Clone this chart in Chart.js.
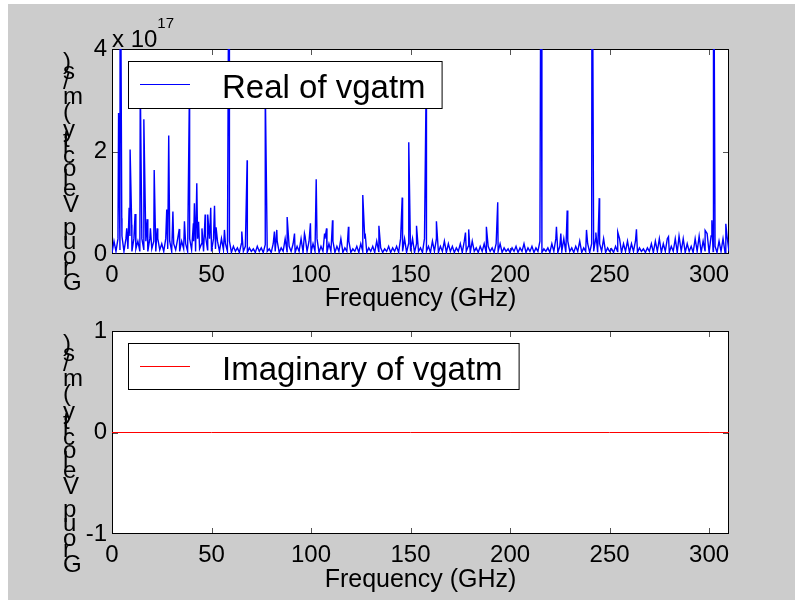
<!DOCTYPE html>
<html>
<head>
<meta charset="utf-8">
<script src="https://cdn.jsdelivr.net/npm/chart.js@4.4.0/dist/chart.umd.min.js"></script>
<style>
  body { margin: 0; background: #fff; }
  #fig { position: absolute; left: 8px; top: 4px; width: 787px; height: 596px; background: #cccccc; }
  canvas { position: absolute; left: 0; }
  #realChart { top: 0; }
  #imagChart { top: 300px; }
</style>
</head>
<body>
<div id="fig"></div>
<canvas id="realChart" width="795" height="320"></canvas>
<canvas id="imagChart" width="795" height="300"></canvas>
<script>
// values of the real part are in units of 1e17 (axis shows "x 10^17")
// tall spikes: frequency (GHz) and height
const realSpikeFreq = [3.3, 4.1, 4.9, 7.4, 8.6, 9.1, 9.9, 11.6, 14.2, 16.0, 17.7, 19.3, 21.2, 22.7, 27.5, 28.5,
  30.6, 33.8, 36.4, 38.9, 40.9, 41.4, 42.6, 43.5, 45.2, 46.8, 48.1, 49.6, 51.5, 52.3, 56.5, 58.9,
  65.2, 67.9, 77.0, 81.6, 82.8, 88.0, 91.7, 96.7, 99.7, 102.6, 106.8, 107.8, 110.8, 118.8,
  126.0, 127.2, 134.1, 145.8, 149.1, 153.0, 157.8, 163.0, 177.6, 179.2, 188.1, 193.8,
  215.6, 223.3, 225.5, 228.7, 238.4, 241.2, 243.1, 244.8, 254.1, 263.5, 279.6, 284.9,
  298.0, 301.4, 302.2, 308.4];
const realSpikeVal = [2.75, 8, 0.70, 0.5, 0.9, 2.04, 0.57, 0.78, 3.4, 2.63, 0.68, 0.5, 1.64, 0.5, 0.87, 2.31,
  0.83, 0.49, 0.64, 3.2, 0.6, 0.99, 1.38, 0.63, 0.5, 0.77, 0.77, 0.9, 0.94, 0.52, 0.47, 8,
  0.44, 1.83, 3.3, 0.44, 0.47, 0.72, 0.4, 0.4, 0.6, 1.46, 0.4, 0.5, 0.66, 0.53,
  1.15, 0.4, 0.55, 1.1, 2.18, 0.55, 3.2, 0.64, 0.42, 0.48, 0.53, 1.01,
  8, 0.53, 0.4, 0.85, 0.47, 8, 0.42, 1.09, 0.43, 0.48, 0.34, 0.35,
  0.46, 0.66, 8, 0.59];

// noise floor, one value per GHz from 0 to 310
const realFloorStart = 0;
const realFloorStep = 1;
const realFloorVal = [
  0.02,0.25,0.05,0.3,0.08,0.35,0.05,0.3,0.1,0.35,
  0.05,0.3,0.1,0.25,0.05,0.3,0.08,0.25,0.05,0.3,
  0.1,0.25,0.05,0.3,0.08,0.2,0.05,0.3,0.1,0.25,
  0.05,0.2,0.08,0.3,0.05,0.25,0.1,0.2,0.05,0.3,
  0.08,0.25,0.05,0.3,0.1,0.2,0.05,0.35,0.08,0.3,
  0.05,0.3,0.1,0.25,0.05,0.3,0.08,0.2,0.05,0.25,
  0.03,0.15,0.05,0.12,0.03,0.2,0.05,0.15,0.03,0.12,
  0.05,0.1,0.03,0.15,0.05,0.12,0.03,0.18,0.05,0.1,
  0.03,0.2,0.05,0.25,0.03,0.12,0.05,0.3,0.03,0.15,
  0.05,0.2,0.03,0.15,0.05,0.3,0.03,0.35,0.05,0.25,
  0.03,0.2,0.05,0.3,0.03,0.15,0.05,0.3,0.03,0.2,
  0.05,0.25,0.03,0.15,0.05,0.3,0.03,0.12,0.05,0.25,
  0.03,0.1,0.05,0.15,0.03,0.2,0.05,0.3,0.03,0.12,
  0.05,0.15,0.03,0.25,0.05,0.12,0.03,0.1,0.05,0.15,
  0.03,0.12,0.05,0.15,0.03,0.3,0.05,0.3,0.03,0.2,
  0.05,0.3,0.03,0.2,0.05,0.12,0.03,0.3,0.05,0.15,
  0.03,0.25,0.05,0.3,0.03,0.15,0.05,0.25,0.03,0.2,
  0.05,0.15,0.03,0.12,0.05,0.2,0.03,0.25,0.05,0.15,
  0.03,0.25,0.05,0.12,0.03,0.15,0.05,0.2,0.03,0.15,
  0.05,0.12,0.03,0.2,0.05,0.2,0.03,0.12,0.05,0.1,
  0.03,0.12,0.05,0.15,0.03,0.12,0.05,0.2,0.03,0.12,
  0.05,0.15,0.03,0.12,0.05,0.25,0.03,0.1,0.05,0.12,
  0.03,0.2,0.05,0.3,0.03,0.15,0.05,0.3,0.03,0.25,
  0.05,0.12,0.03,0.15,0.05,0.25,0.03,0.12,0.05,0.2,
  0.03,0.2,0.05,0.3,0.03,0.2,0.05,0.3,0.03,0.12,
  0.05,0.1,0.03,0.15,0.05,0.3,0.03,0.2,0.05,0.25,
  0.03,0.2,0.05,0.25,0.03,0.12,0.05,0.1,0.03,0.12,
  0.05,0.2,0.03,0.25,0.05,0.3,0.03,0.2,0.05,0.3,
  0.03,0.15,0.05,0.3,0.03,0.35,0.05,0.3,0.03,0.2,
  0.05,0.15,0.03,0.3,0.05,0.35,0.03,0.25,0.05,0.4,
  0.03,0.35,0.05,0.15,0.03,0.25,0.05,0.3,0.03,0.35,
  0.05
];

const imagFreq = [0, 50, 100, 150, 200, 250, 300, 310];
const imagVal = [0, 0, 0, 0, 0, 0, 0, 0];

const xTicks = [0, 50, 100, 150, 200, 250, 300];
const realTicks = [0, 2, 4];
const imagTicks = [-1, 0, 1];

const FONT = '"Liberation Sans", Arial, Helvetica, sans-serif';
Chart.defaults.font.family = FONT;
Chart.defaults.color = '#000';

const realPoints = realFloorVal.map((v, i) => ({ x: realFloorStart + i * realFloorStep, y: v }))
  .concat(realSpikeFreq.map((f, i) => ({ x: f, y: realSpikeVal[i] })))
  .sort((a, b) => a.x - b.x);
const imagPoints = imagFreq.map((f, i) => ({ x: f, y: imagVal[i] }));

// matlab-ish axes: white box, inward ticks, boxed legend, odd stacked ylabel
const matlabAxes = {
  id: 'matlabAxes',
  beforeDraw(chart) {
    const { ctx, chartArea: ca } = chart;
    ctx.save();
    ctx.fillStyle = '#fff';
    ctx.fillRect(ca.left, ca.top, ca.right - ca.left, ca.bottom - ca.top);
    ctx.restore();
  },
  beforeDatasetsDraw(chart) {
    const { ctx, chartArea: ca, scales } = chart;
    ctx.save();
    ctx.strokeStyle = '#555';
    ctx.lineWidth = 1;
    ctx.beginPath();
    scales.x.ticks.forEach(t => {
      const px = Math.round(scales.x.getPixelForValue(t.value)) + 0.5;
      if (px - ca.left < 3) return;
      ctx.moveTo(px, ca.top); ctx.lineTo(px, ca.top + 6);
      ctx.moveTo(px, ca.bottom); ctx.lineTo(px, ca.bottom - 6);
    });
    scales.y.ticks.forEach(t => {
      const py = Math.round(scales.y.getPixelForValue(t.value)) + 0.5;
      if (py - ca.top < 3 || ca.bottom - py < 3) return;
      ctx.moveTo(ca.left, py); ctx.lineTo(ca.left + 6, py);
      ctx.moveTo(ca.right, py); ctx.lineTo(ca.right - 6, py);
    });
    ctx.stroke();
    ctx.strokeStyle = '#000';
    ctx.strokeRect(ca.left + 0.5, ca.top + 0.5, ca.right - ca.left - 1, ca.bottom - ca.top - 1);
    ctx.restore();
  },
  afterDraw(chart, args, opts) {
    const { ctx, chartArea: ca } = chart;
    const ds = chart.data.datasets[0];
    ctx.save();

    // legend
    ctx.font = '33px ' + FONT;
    const tw = ctx.measureText(ds.label).width;
    const bx = ca.left + 16, by = ca.top + 12;
    const bw = 94 + tw + 16, bh = opts.legendHeight;
    ctx.fillStyle = '#fff';
    ctx.fillRect(bx, by, bw, bh);
    ctx.strokeStyle = '#000';
    ctx.lineWidth = 1;
    ctx.strokeRect(bx + 0.5, by + 0.5, bw, bh);
    ctx.strokeStyle = ds.borderColor;
    ctx.beginPath();
    ctx.moveTo(ca.left + 28, ca.top + 35.5);
    ctx.lineTo(ca.left + 78, ca.top + 35.5);
    ctx.stroke();
    ctx.fillStyle = '#000';
    ctx.textBaseline = 'alphabetic';
    ctx.textAlign = 'left';
    ctx.fillText(ds.label, ca.left + 110, ca.top + 49);

    // y label, glyphs upright and stacked along the rotated baseline
    ctx.font = '24px ' + FONT;
    const chars = [...opts.ylabel];
    const w = chars.map(c => ctx.measureText(c).width);
    const centers = [];
    let cum = 0;
    chars.forEach((c, i) => { centers.push(cum + w[i] / 2 - w[0] / 2); cum += w[i]; });
    const k = 221 / centers[centers.length - 1];
    ctx.textBaseline = 'middle';
    chars.forEach((c, i) => {
      if (c !== ' ') ctx.fillText(c, 63, ca.top + 234 - centers[i] * k);
    });

    // exponent
    if (opts.exponent) {
      ctx.textBaseline = 'alphabetic';
      ctx.font = '24px ' + FONT;
      ctx.fillText('x 10', ca.left, ca.top - 2);
      const ew = ctx.measureText('x 10').width;
      ctx.font = '15px ' + FONT;
      ctx.fillText(opts.exponent, ca.left + ew, ca.top - 21);
    }
    ctx.restore();
  }
};

function makeChart(id, dataset, yTicks, yMin, yMax, pad, canvasH, titlePad, pluginOpts) {
  return new Chart(document.getElementById(id), {
    type: 'line',
    data: { datasets: [dataset] },
    plugins: [matlabAxes],
    options: {
      responsive: false,
      animation: false,
      layout: { padding: { left: 0, right: 66, top: pad, bottom: 0 } },
      plugins: {
        legend: { display: false },
        tooltip: { enabled: false },
        matlabAxes: pluginOpts
      },
      scales: {
        x: {
          type: 'linear',
          min: 0,
          max: 310,
          afterBuildTicks: s => { s.ticks = xTicks.map(v => ({ value: v })); },
          afterFit: s => { s.height = 66; },
          grid: { display: false, drawTicks: false },
          border: { display: false },
          ticks: { font: { size: 24 }, padding: 7, maxRotation: 0, autoSkip: false },
          title: { display: true, text: 'Frequency (GHz)', font: { size: 25 }, padding: { top: 0, bottom: titlePad } }
        },
        y: {
          type: 'linear',
          min: yMin,
          max: yMax,
          afterBuildTicks: s => { s.ticks = yTicks.map(v => ({ value: v })); },
          afterFit: s => { s.width = 112; },
          grid: { display: false, drawTicks: false },
          border: { display: false },
          ticks: { font: { size: 24 }, padding: 5 }
        }
      }
    }
  });
}

makeChart('realChart', {
  label: 'Real of vgatm',
  data: realPoints,
  borderColor: '#0000ff',
  borderWidth: 1.4,
  pointRadius: 0,
  tension: 0
}, realTicks, 0, 4, 49, 320, 6, { ylabel: 'Group Velocity (m/s)', exponent: '17', legendHeight: 47 });

makeChart('imagChart', {
  label: 'Imaginary of vgatm',
  data: imagPoints,
  borderColor: '#ff0000',
  borderWidth: 1,
  pointRadius: 0,
  tension: 0
}, imagTicks, -1, 1, 31, 300, 5, { ylabel: 'Group Velocity (m/s)', exponent: '', legendHeight: 46 });
</script>
</body>
</html>
